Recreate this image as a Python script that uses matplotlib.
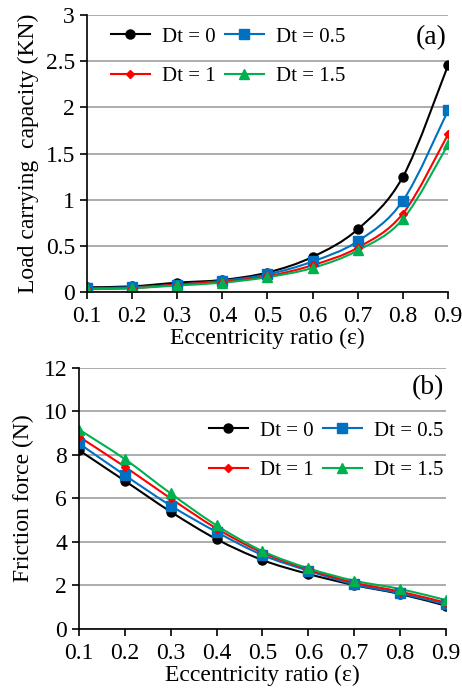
import numpy as np
import matplotlib.pyplot as plt
from matplotlib.path import Path
from matplotlib.patches import PathPatch
from matplotlib.lines import Line2D

plt.rcParams['font.family'] = ['Liberation Serif', 'DejaVu Serif']

ecc = [0.1, 0.2, 0.3, 0.4, 0.5, 0.6, 0.7, 0.8, 0.9]
labels = ['Dt = 0', 'Dt = 0.5', 'Dt = 1', 'Dt = 1.5']

load_dt0 = [0.05, 0.06, 0.10, 0.13, 0.21, 0.38, 0.68, 1.25, 2.46]
load_dt05 = [0.04, 0.05, 0.08, 0.12, 0.19, 0.33, 0.55, 0.99, 1.97]
load_dt1 = [0.03, 0.04, 0.08, 0.11, 0.17, 0.29, 0.48, 0.85, 1.71]
load_dt15 = [0.03, 0.04, 0.07, 0.10, 0.16, 0.26, 0.45, 0.79, 1.60]

fric_dt0 = [8.22, 6.81, 5.39, 4.13, 3.17, 2.53, 2.02, 1.61, 1.07]
fric_dt05 = [8.53, 7.07, 5.67, 4.46, 3.40, 2.68, 2.05, 1.64, 1.13]
fric_dt1 = [8.84, 7.46, 6.00, 4.62, 3.51, 2.74, 2.13, 1.72, 1.21]
fric_dt15 = [9.17, 7.81, 6.23, 4.76, 3.58, 2.79, 2.22, 1.84, 1.33]

colors = ['black', '#0070C0', '#FF0000', '#00B050']
markers = ['o', 's', 'D', '^']
msizes = [6.5, 6.5, 4.5, 6.5]


def smooth_path(x, y):
    # Catmull-Rom through the points, drawn as cubic Bezier segments
    x = np.asarray(x, float)
    y = np.asarray(y, float)
    verts = [(x[0], y[0])]
    codes = [Path.MOVETO]
    n = len(x)
    for i in range(n - 1):
        p0 = np.array([x[max(i - 1, 0)], y[max(i - 1, 0)]])
        p1 = np.array([x[i], y[i]])
        p2 = np.array([x[i + 1], y[i + 1]])
        p3 = np.array([x[min(i + 2, n - 1)], y[min(i + 2, n - 1)]])
        c1 = p1 + (p2 - p0) / 6.0
        c2 = p2 - (p3 - p1) / 6.0
        verts += [tuple(c1), tuple(c2), tuple(p2)]
        codes += [Path.CURVE4] * 3
    return Path(verts, codes)


def draw(ax, series):
    for ys, c, m, ms in zip(series, colors, markers, msizes):
        ax.add_patch(PathPatch(smooth_path(ecc, ys), fill=False, edgecolor=c, lw=1.5))
        ax.plot(ecc, ys, linestyle='none', marker=m, color=c, markersize=ms)


def style(ax, ylim, yticks):
    ax.set_xlim(0.1, 0.9)
    ax.set_ylim(*ylim)
    ax.set_yticks(yticks)
    ax.set_xticks(ecc)
    ax.set_xticklabels([str(v) for v in ecc])
    ax.set_yticklabels([('%g' % v) for v in yticks])
    for s in ['top', 'right']:
        ax.spines[s].set_visible(False)
    ax.spines['left'].set_linewidth(1.2)
    ax.spines['bottom'].set_linewidth(1.2)
    ax.yaxis.grid(True, color='#a6a6a6', lw=1.3)
    ax.set_axisbelow(True)
    ax.tick_params(direction='out', length=5, width=1.2, labelsize=17)
    ax.tick_params(axis='x', pad=5)
    ax.set_xlabel('Eccentricity ratio (ε)', fontsize=17, labelpad=1)
    for sp in ax.spines.values():
        sp.set_clip_on(False)


def legend(ax, anchor):
    handles = [Line2D([], [], color=c, marker=m, markersize=ms, lw=1.5)
               for c, m, ms in zip(colors, markers, msizes)]
    # ncol fills column-wise, so reorder to get rows (0, 0.5) and (1, 1.5)
    order = [0, 2, 1, 3]
    ax.legend([handles[i] for i in order], [labels[i] for i in order],
              loc='upper left', bbox_to_anchor=anchor, bbox_transform=fig.transFigure,
              ncol=2, frameon=False, fontsize=15, handlelength=1.85, handletextpad=0.6,
              columnspacing=0.45, labelspacing=0.95, borderpad=0, borderaxespad=0)


fig = plt.figure(figsize=(4.62, 6.95), dpi=100)

ax1 = fig.add_axes([0.188, 0.58, 0.782, 0.398])
draw(ax1, [load_dt0, load_dt05, load_dt1, load_dt15])
style(ax1, (0, 3), [0, 0.5, 1, 1.5, 2, 2.5, 3])
ax1.set_ylabel('Load carrying  capacity (KN)', fontsize=17, labelpad=5)
ax1.text(0.995, 0.92, '(a)', transform=ax1.transAxes, fontsize=20, ha='right', va='center')
legend(ax1, (111 / 462, 1 - 27 / 695))

ax2 = fig.add_axes([0.171, 0.095, 0.794, 0.3755])
draw(ax2, [fric_dt0, fric_dt05, fric_dt1, fric_dt15])
style(ax2, (0, 12), [0, 2, 4, 6, 8, 10, 12])
ax2.set_ylabel('Friction force (N)', fontsize=17, labelpad=7)
ax2.text(0.995, 0.923, '(b)', transform=ax2.transAxes, fontsize=20, ha='right', va='center')
legend(ax2, (209 / 462, 1 - 421 / 695))

fig.savefig('out.png', dpi=100)
